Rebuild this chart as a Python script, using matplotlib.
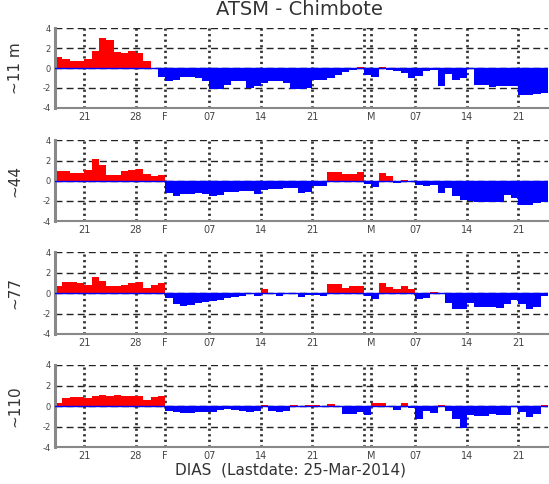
import numpy as np
import pandas as pd
import matplotlib
matplotlib.use('Agg')
import matplotlib.pyplot as plt

dias = pd.date_range('2014-01-17', '2014-03-24', freq='D')

nivel_11 = [1.1, 0.9, 0.7, 0.75, 0.9, 1.75, 3.0, 2.85, 1.6, 1.55, 1.75, 1.5, 0.7, 0.0, -0.9,
            -1.3, -1.25, -0.95, -0.9, -1.0, -1.35, -2.1, -2.1, -1.7, -1.3, -1.35, -2.0, -1.8, -1.5, -1.35,
            -1.35, -1.5, -2.1, -2.15, -2.0, -1.2, -1.2, -1.0, -0.7, -0.4, -0.2, 0.1, -0.7, -0.9, 0.15,
            -0.2, -0.35, -0.5, -1.0, -0.85, -0.3, -0.2, -1.8, -0.6, -1.2, -1.0, -0.15, -1.7, -1.75, -1.9,
            -1.85, -1.8, -1.8, -2.7, -2.7, -2.6, -2.5]
nivel_44 = [1.0, 1.0, 0.8, 0.75, 1.1, 2.2, 1.6, 0.6, 0.55, 1.0, 1.1, 1.2, 0.7, 0.45, 0.55,
            -1.2, -1.5, -1.35, -1.3, -1.2, -1.3, -1.5, -1.4, -1.15, -1.1, -1.0, -1.0, -1.35, -0.9, -0.8,
            -0.85, -0.75, -0.7, -1.2, -1.1, -0.5, -0.5, 0.9, 0.9, 0.65, 0.65, 0.9, -0.3, -0.6, 0.75,
            0.5, -0.2, 0.1, -0.1, -0.4, -0.5, -0.4, -1.2, -0.7, -1.5, -1.9, -2.05, -2.1, -2.15, -2.1,
            -2.1, -1.4, -1.7, -2.35, -2.4, -2.2, -2.1]
nivel_77 = [0.65, 1.05, 1.05, 1.0, 0.8, 1.55, 1.15, 0.65, 0.65, 0.8, 1.0, 1.1, 0.45, 0.8, 1.0,
            -0.5, -1.1, -1.3, -1.2, -1.0, -0.85, -0.75, -0.65, -0.5, -0.4, -0.25, -0.1, -0.3, 0.35, -0.1,
            -0.3, -0.1, -0.1, -0.35, -0.15, -0.15, -0.3, 0.85, 0.85, 0.45, 0.65, 0.65, -0.3, -0.6, 1.0,
            0.55, 0.35, 0.65, 0.35, -0.6, -0.45, 0.15, -0.1, -0.95, -1.6, -1.6, -0.95, -1.4, -1.4, -1.4,
            -1.45, -1.1, -0.7, -1.1, -1.55, -1.4, -0.3]
nivel_110 = [0.3, 0.8, 0.9, 0.9, 0.75, 0.95, 1.1, 0.95, 1.05, 1.0, 0.95, 0.95, 0.6, 0.85, 1.0,
             -0.45, -0.6, -0.65, -0.65, -0.6, -0.6, -0.55, -0.4, -0.3, -0.35, -0.5, -0.6, -0.45, 0.1, -0.5,
             -0.6, -0.5, 0.1, 0.0, 0.1, 0.1, 0.05, 0.25, 0.0, -0.75, -0.75, -0.6, -0.9, 0.3, 0.3,
             -0.05, -0.35, 0.3, -0.2, -1.3, -0.45, -0.7, 0.1, -0.45, -1.3, -2.1, -0.9, -1.0, -1.0, -0.8,
             -0.9, -0.9, -0.1, -0.6, -1.1, -0.8, 0.1]

series = [nivel_11, nivel_44, nivel_77, nivel_110]
ylabels = ['~11 m', '~44', '~77', '~110']

tick_dates = pd.to_datetime(['2014-01-21', '2014-01-28', '2014-02-01', '2014-02-07', '2014-02-14',
                             '2014-02-21', '2014-02-28', '2014-03-01', '2014-03-07', '2014-03-14',
                             '2014-03-21'])
tick_labels = ['21', '28', 'F', '07', '14', '21', '', 'M', '07', '14', '21']

fig = plt.figure(figsize=(5.49, 4.84), dpi=100)

# panel boxes in figure fraction (left, bottom, width, height)
boxes = [(0.100, 0.777, 0.898, 0.165),
         (0.100, 0.543, 0.898, 0.167),
         (0.100, 0.310, 0.898, 0.169),
         (0.100, 0.076, 0.898, 0.170)]

x0 = pd.Timestamp('2014-01-17')
x1 = pd.Timestamp('2014-03-25')

for k in range(4):
    ax = fig.add_axes(boxes[k])
    v = np.array(series[k])
    cols = np.where(v >= 0, '#ff0000', '#0000ff')
    ax.bar(dias, v, width=1.0, align='edge', color=cols, linewidth=0, zorder=2)
    ax.axhline(0, color='#0000ff', lw=1.0, zorder=3)
    ax.set_xlim(x0, x1)
    ax.set_ylim(-4, 4)
    ax.set_yticks([-4, -2, 0, 2, 4])
    ax.set_yticklabels(['-4', '-2', '0', '2', '4'], fontsize=6, color='#444444')
    ax.set_xticks(tick_dates)
    ax.set_xticklabels(tick_labels, fontsize=7, color='#444444')
    ax.tick_params(length=0, pad=3)
    for y in [-2, 0, 2, 4]:
        ax.axhline(y, color='#222222', lw=1.0, ls=(0, (5, 3)), zorder=1)
    for d in tick_dates:
        ax.axvline(d, color='#333333', lw=2.0, ls=(0, (0.8, 1.2)), zorder=1)
    ax.spines['top'].set_visible(False)
    ax.spines['right'].set_visible(False)
    ax.spines['left'].set_color('#888888')
    ax.spines['left'].set_linewidth(2.2)
    ax.spines['bottom'].set_color('#888888')
    ax.spines['bottom'].set_linewidth(1.5)
    ax.set_ylabel(ylabels[k], fontsize=11, color='#333333')
    ax.yaxis.set_label_coords(-0.065, 0.5)

fig.text(0.545, 0.968, 'ATSM - Chimbote', ha='center', va='baseline', fontsize=14, color='#333333')
fig.text(0.53, 0.028, 'DIAS  (Lastdate: 25-Mar-2014)', ha='center', va='center', fontsize=11, color='#333333')

fig.savefig('out.png', dpi=100)
